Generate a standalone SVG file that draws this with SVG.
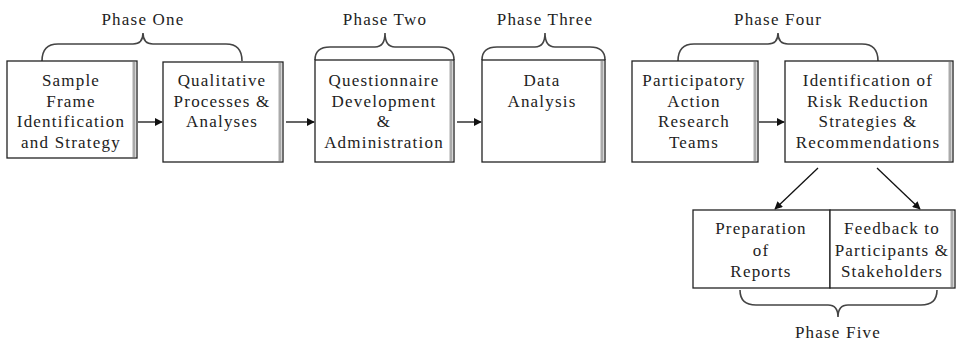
<svg xmlns="http://www.w3.org/2000/svg" width="968" height="345" viewBox="0 0 968 345">
<defs>
<style>
.box{fill:#fff;stroke:#222;stroke-width:1.3}
.sh{stroke:#aaa;stroke-width:3;fill:none}
.t{font-family:"Liberation Serif","Times New Roman",serif;font-size:17px;letter-spacing:1.2px;fill:#222;text-anchor:middle}
.brace{fill:none;stroke:#444;stroke-width:1.6}
.conn{stroke:#111;stroke-width:1.3;fill:none;marker-end:url(#ah)}
</style>
<marker id="ah" viewBox="0 0 10 10" refX="9" refY="5" markerWidth="8" markerHeight="8" markerUnits="userSpaceOnUse" orient="auto">
<path d="M0,0 L10,5 L0,10 z" fill="#111"/>
</marker>
</defs>
<rect width="968" height="345" fill="#fff"/>

<g id="phase-labels">
<text class="t" x="143" y="25">Phase One</text>
<text class="t" x="385" y="25">Phase Two</text>
<text class="t" x="545" y="25">Phase Three</text>
<text class="t" x="778" y="25">Phase Four</text>
<text class="t" x="838" y="338">Phase Five</text>
</g>

<g id="braces">
<path class="brace" d="M42,61 Q42,44 58,44 H133 Q143,44 143,33 Q143,44 153,44 H226 Q242,44 242,61"/>
<path class="brace" d="M315,60 Q315,47 330,47 H375 Q385,47 385,33 Q385,47 395,47 H439 Q454,47 454,60"/>
<path class="brace" d="M482,60 Q482,47 497,47 H535 Q545,47 545,33 Q545,47 555,47 H590 Q605,47 605,60"/>
<path class="brace" d="M678,61 Q678,44 694,44 H768 Q778,44 778,33 Q778,44 788,44 H862 Q878,44 878,61"/>
<path class="brace" d="M740,290 Q740,305 756,305 H828 Q838,305 838,317 Q838,305 848,305 H921 Q937,305 937,290"/>
</g>

<g id="n1">
<rect class="box" x="7" y="61" width="130" height="97"/>
<line class="sh" x1="134" y1="62" x2="134" y2="157"/>
<text class="t" x="71" y="86">Sample</text>
<text class="t" x="71" y="107">Frame</text>
<text class="t" x="71" y="127">Identification</text>
<text class="t" x="71" y="148">and Strategy</text>
</g>

<g id="n2">
<rect class="box" x="163" y="62" width="120" height="100"/>
<line class="sh" x1="280" y1="63" x2="280" y2="161"/>
<text class="t" x="222" y="86">Qualitative</text>
<text class="t" x="222" y="107">Processes &amp;</text>
<text class="t" x="222" y="127">Analyses</text>
</g>

<g id="n3">
<rect class="box" x="315" y="60" width="139" height="102"/>
<line class="sh" x1="451" y1="61" x2="451" y2="161"/>
<text class="t" x="384" y="86">Questionnaire</text>
<text class="t" x="384" y="107">Development</text>
<text class="t" x="384" y="127">&amp;</text>
<text class="t" x="384" y="148">Administration</text>
</g>

<g id="n4">
<rect class="box" x="482" y="60" width="123" height="102"/>
<line class="sh" x1="602" y1="61" x2="602" y2="161"/>
<text class="t" x="542" y="86">Data</text>
<text class="t" x="542" y="107">Analysis</text>
</g>

<g id="n5">
<rect class="box" x="632" y="61" width="126" height="101"/>
<line class="sh" x1="755" y1="62" x2="755" y2="161"/>
<text class="t" x="694" y="86">Participatory</text>
<text class="t" x="694" y="107">Action</text>
<text class="t" x="694" y="127">Research</text>
<text class="t" x="694" y="148">Teams</text>
</g>

<g id="n6">
<rect class="box" x="785" y="61" width="168" height="101"/>
<line class="sh" x1="950" y1="62" x2="950" y2="161"/>
<text class="t" x="868" y="86">Identification of</text>
<text class="t" x="868" y="107">Risk Reduction</text>
<text class="t" x="868" y="127">Strategies &amp;</text>
<text class="t" x="868" y="148">Recommendations</text>
</g>

<g id="n7">
<rect class="box" x="693" y="210" width="137" height="78"/>
<text class="t" x="761" y="234">Preparation</text>
<text class="t" x="761" y="256">of</text>
<text class="t" x="761" y="277">Reports</text>
</g>

<g id="n8">
<rect class="box" x="830" y="210" width="125" height="78"/>
<line class="sh" x1="952" y1="211" x2="952" y2="287"/>
<text class="t" x="892" y="234">Feedback to</text>
<text class="t" x="892" y="256">Participants &amp;</text>
<text class="t" x="892" y="277">Stakeholders</text>
</g>

<g id="connectors">
<line class="conn" x1="138" y1="122" x2="162" y2="122"/>
<line class="conn" x1="286" y1="122" x2="314" y2="122"/>
<line class="conn" x1="457" y1="122" x2="481" y2="122"/>
<line class="conn" x1="759" y1="122" x2="784" y2="122"/>
<line class="conn" x1="818" y1="168" x2="775" y2="209"/>
<line class="conn" x1="877" y1="168" x2="920" y2="209"/>
</g>
</svg>
